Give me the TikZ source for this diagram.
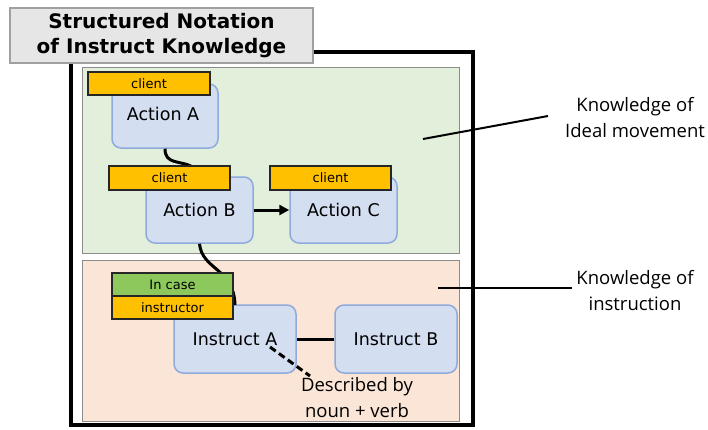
\documentclass[tikz,border=0pt]{standalone}
\usepackage{fontspec}
\setmainfont{DejaVu Sans}
\newfontfamily\notefont{Open Sans}
\usetikzlibrary{arrows.meta}
\definecolor{panelgreen}{HTML}{E2EFDA}
\definecolor{panelpeach}{HTML}{FBE5D6}
\definecolor{panelline}{HTML}{8C8C8C}
\definecolor{boxfill}{HTML}{D3DEF1}
\definecolor{boxline}{HTML}{8FAADC}
\definecolor{tagorange}{HTML}{FFC000}
\definecolor{taggreen}{HTML}{8DC85C}
\definecolor{titlefill}{HTML}{E6E6E6}
\definecolor{titleline}{HTML}{A0A0A0}
\tikzset{
  panel/.style={draw=panelline, line width=1pt},
  actbox/.style={draw=boxline, fill=boxfill, line width=1.5pt, rounded corners=9pt,
    minimum width=#1, minimum height=66pt, inner sep=0pt, font=\fontsize{17.5}{19}\selectfont},
  tag/.style={draw=black!85, fill=#1, line width=1.5pt, minimum width=121pt,
    minimum height=23pt, inner sep=0pt, font=\fontsize{13}{14}\selectfont},
  link/.style={line width=3pt, black},
  note/.style={align=center, font=\notefont\fontsize{18.5}{26}\selectfont, inner sep=0pt},
}
\begin{document}
\begin{tikzpicture}[x=1pt, y=-1pt]
\useasboundingbox (0,0) rectangle (708,429);
\fill[white] (0,0) rectangle (708,429);

% knowledge panels
\draw[panel, fill=panelgreen] (82,67) rectangle (459,253);
\draw[panel, fill=panelpeach] (82,260) rectangle (459,421);

% outer frame
\draw[line width=3.2pt] (71,52) rectangle (473,425);

% title plate
\node[draw=titleline, fill=titlefill, line width=1.2pt, minimum width=303pt,
      minimum height=55pt, inner sep=0pt, align=center,
      font=\bfseries\fontsize{20}{25}\selectfont] (title) at (161.5,35.5)
      {Structured Notation\\of Instruct Knowledge};

% action and instruction boxes
\node[actbox=106pt, minimum height=64pt] (actA) at (165,116) {};
\node at (163,114) {\fontsize{17.5}{19}\selectfont Action A};
\node[actbox=107pt] (actB) at (199.5,210) {Action B};
\node[actbox=107pt] (actC) at (343.5,210) {Action C};
\node[actbox=122pt, minimum height=68pt] (insA) at (235,339) {Instruct A};
\node[actbox=122pt, minimum height=68pt] (insB) at (396,339) {Instruct B};

% connectors (drawn before the tags so that tags cover them)
\draw[link] (actA.south) .. controls (165,165) and (180,160) .. (193,167);
\draw[link] (actB.south) .. controls (202,270) and (234,268) .. (235,305);
\draw[link, -{Triangle[length=10pt,width=10pt]}] (actB.east) -- (actC.west);
\draw[link] (insA.east) -- (insB.west);

% role tags
\node[tag=tagorange, minimum width=122pt] (tagA) at (149,83.5) {client};
\node[tag=tagorange, minimum height=24pt] (tagB) at (169.5,178) {client};
\node[tag=tagorange, minimum height=24pt] (tagC) at (330.5,178) {client};
\node[tag=taggreen] (tagCase) at (172.5,284.5) {In case};
\node[tag=tagorange] (tagIns) at (172.5,307.5) {instructor};

% annotation for instruction wording
\coordinate (descStart) at (270,347);
\node[note] (desc) at (357,398) {Described by\\noun + verb};
\draw[line width=3pt, dash pattern=on 7pt off 4pt] (descStart) -- (310,376);

% side annotations
\node[note] (noteIdeal) at (635,118) {Knowledge of\\Ideal movement};
\node[note] (noteInstr) at (635,291) {Knowledge of\\instruction};
\coordinate (idealIn) at (423,139);
\coordinate (idealOut) at (548,116);
\coordinate (instrIn) at (438,288);
\coordinate (instrOut) at (572,288);
\draw[line width=2pt] (idealIn) -- (idealOut);
\draw[line width=2pt] (instrIn) -- (instrOut);
\end{tikzpicture}
\end{document}
